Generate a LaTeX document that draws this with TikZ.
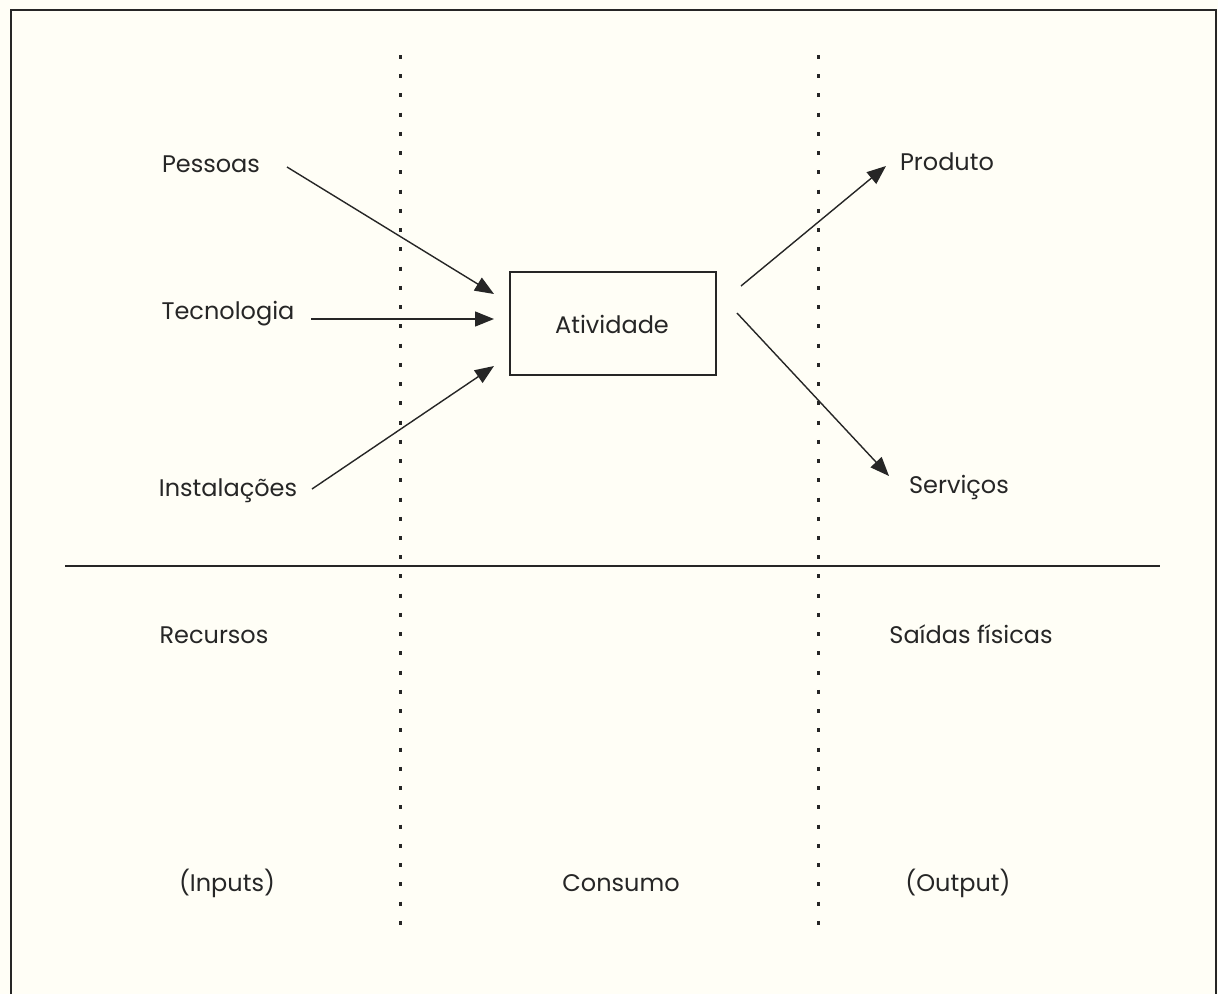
\documentclass[tikz,border=0pt]{standalone}
\usepackage{fontspec}
\setmainfont{Poppins}
\usetikzlibrary{arrows.meta}
\definecolor{paper}{RGB}{255,254,246}
\definecolor{ink}{RGB}{38,38,38}
\begin{document}
\begin{tikzpicture}[x=1pt,y=-1pt,
  lbl/.style={anchor=base, inner sep=0pt, text=ink, font=\fontsize{24}{28}\selectfont},
  arr/.style={draw=ink, line width=1.4pt, -{Triangle[length=19pt,width=15pt]}},
  dotline/.style={draw=ink, line width=3pt, dash pattern=on 4pt off 15.24pt},
  frame/.style={draw=ink, line width=2pt}]
\useasboundingbox[fill=paper] (0,0) rectangle (1218,994);

% outer frame (open at the bottom)
\draw[frame] (11,994) -- (11,10) -- (1216,10) -- (1216,994);

% dotted separators
\draw[dotline] (400,55) -- (400,926);
\draw[dotline] (818,55) -- (818,926);

% rule between the diagram and the captions
\draw[frame] (65,566) -- (1160,566);

% central activity
\node[draw=ink, line width=1.5pt, minimum width=206pt, minimum height=103pt, inner sep=0pt]
  (act) at (613,323.5) {};
\node[lbl] (actlbl) at (612,333) {Atividade};

% inputs
\node[lbl] (pes) at (211,172) {Pessoas};
\node[lbl] (tec) at (228,319) {Tecnologia};
\node[lbl] (ins) at (228,496) {Instalações};

% outputs
\node[lbl] (prod) at (947,170) {Produto};
\node[lbl] (serv) at (959,493) {Serviços};

% arrow ends
\coordinate (pesA) at (287,167);
\coordinate (pesB) at (494,294);
\coordinate (tecA) at (311,319);
\coordinate (tecB) at (494,319);
\coordinate (insA) at (312,489);
\coordinate (insB) at (494,366);
\coordinate (prodA) at (741,286);
\coordinate (prodB) at (886,166);
\coordinate (servA) at (737,313);
\coordinate (servB) at (889,476);

\draw[arr] (pesA) -- (pesB);
\draw[arr] (tecA) -- (tecB);
\draw[arr] (insA) -- (insB);
\draw[arr] (prodA) -- (prodB);
\draw[arr] (servA) -- (servB);

% captions
\node[lbl] (rec) at (214,643) {Recursos};
\node[lbl] (sai) at (971,643) {Saídas físicas};
\node[lbl] (inp) at (227,891) {(Inputs)};
\node[lbl] (con) at (621,891) {Consumo};
\node[lbl] (out) at (958,891) {(Output)};
\end{tikzpicture}
\end{document}
